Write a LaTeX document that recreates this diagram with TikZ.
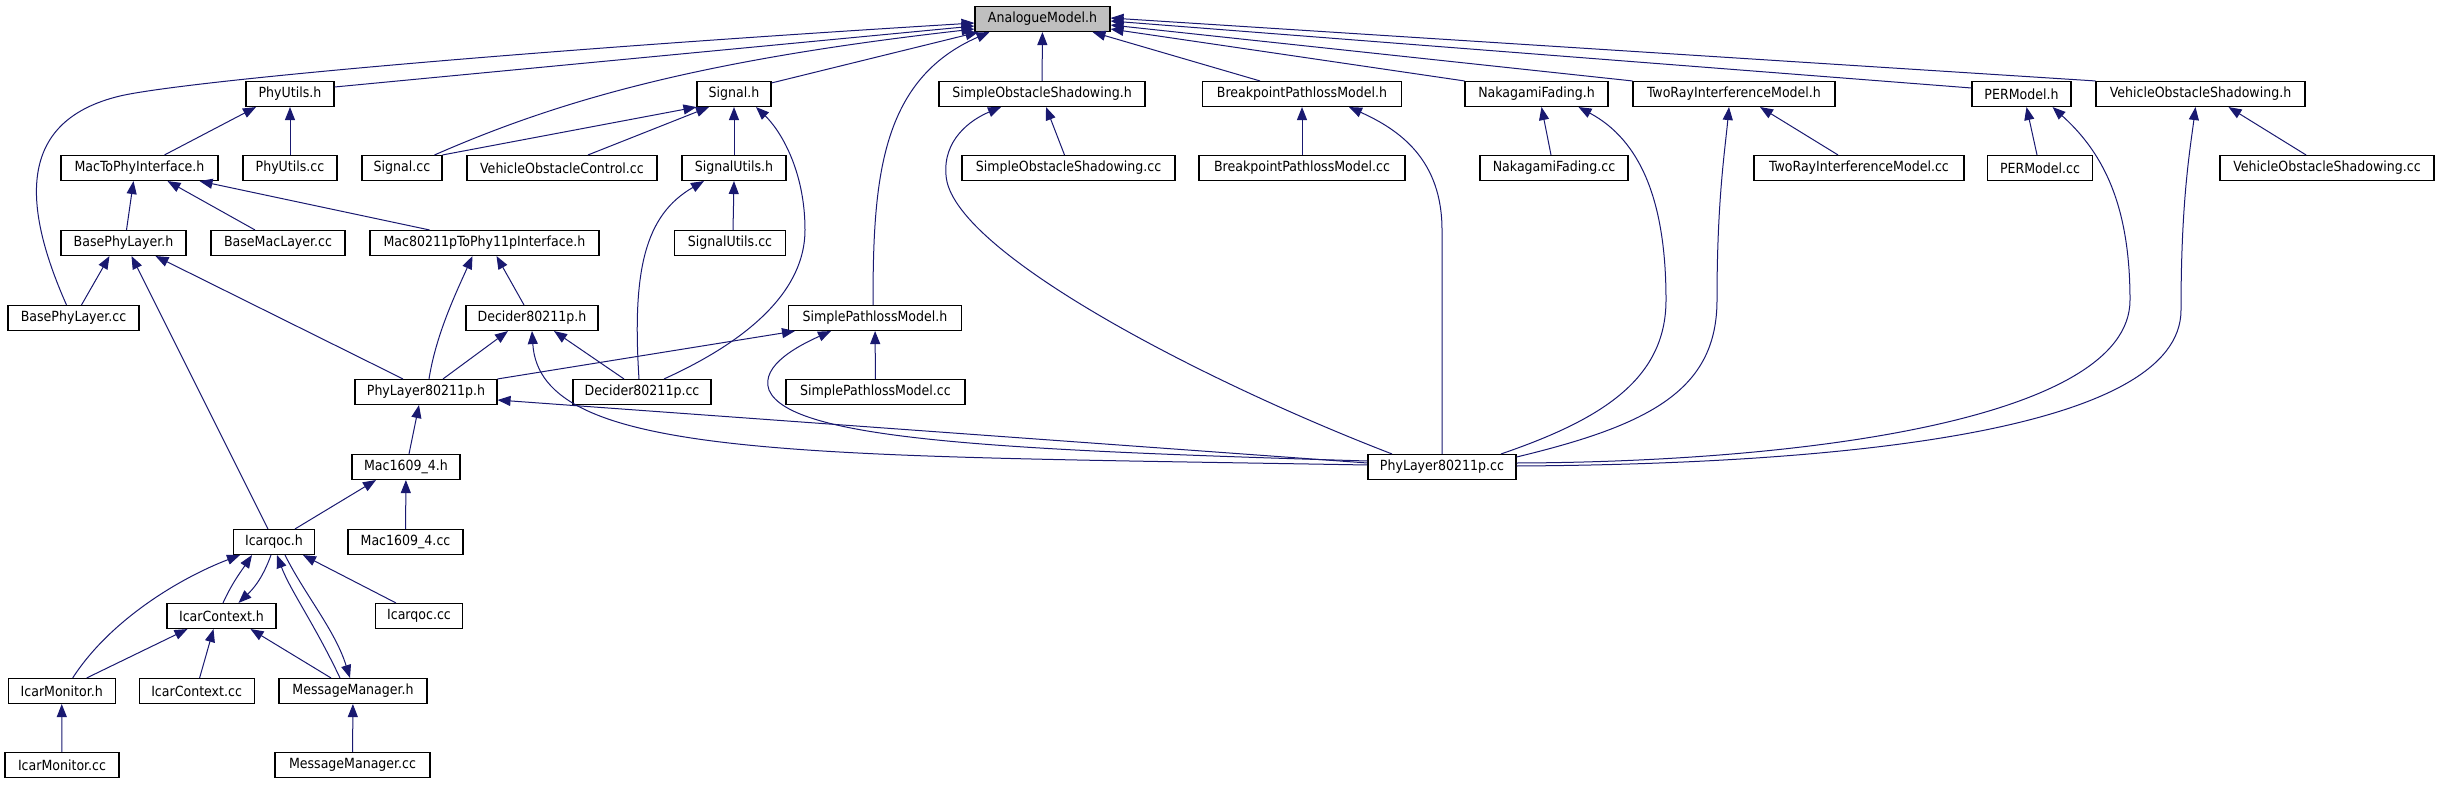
\documentclass[tikz,border=0pt]{standalone}
\usepackage{fontspec}
\setmainfont{DejaVu Sans Condensed}
\usetikzlibrary{arrows.meta}
\definecolor{edgeblue}{RGB}{25,25,112}
\definecolor{mainfill}{RGB}{191,191,191}

\begin{document}
\begin{tikzpicture}[x=1pt, y=-1pt,
    file/.style={rectangle, draw=black, fill=white, line width=1.1pt, minimum height=25pt, inner sep=0pt, font=\fontsize{14}{16}\selectfont},
    dep/.style={-{Triangle[length=13pt, width=10pt]}, color=edgeblue, line width=1pt}]

    \useasboundingbox (0,0) rectangle (2440,784);

    \node[file, fill=mainfill, minimum width=135pt] (am) at (1042.5,19) {AnalogueModel.h};
    % row 1
    \node[file, minimum width=88pt] (phyutilsh) at (290,94) {PhyUtils.h};
    \node[file, minimum width=74pt] (signalh) at (734,94) {Signal.h};
    \node[file, minimum width=206pt] (sosh) at (1042,94) {SimpleObstacleShadowing.h};
    \node[file, minimum width=199pt] (bpmh) at (1302,94) {BreakpointPathlossModel.h};
    \node[file, minimum width=143pt] (nakah) at (1536.5,94) {NakagamiFading.h};
    \node[file, minimum width=202pt] (tworayh) at (1734,94) {TwoRayInterferenceModel.h};
    \node[file, minimum width=99pt] (perh) at (2021.5,94) {PERModel.h};
    \node[file, minimum width=209pt] (vosh) at (2200.5,94) {VehicleObstacleShadowing.h};
    % row 2
    \node[file, minimum width=157pt] (mactophyh) at (139.5,168) {MacToPhyInterface.h};
    \node[file, minimum width=94pt] (phyutilscc) at (290,168) {PhyUtils.cc};
    \node[file, minimum width=80pt] (signalcc) at (402,168) {Signal.cc};
    \node[file, minimum width=190pt] (vocc) at (562,168) {VehicleObstacleControl.cc};
    \node[file, minimum width=104pt] (sigutilsh) at (734,168) {SignalUtils.h};
    \node[file, minimum width=213pt] (soscc) at (1068.5,168) {SimpleObstacleShadowing.cc};
    \node[file, minimum width=206pt] (bpmcc) at (1302,168) {BreakpointPathlossModel.cc};
    \node[file, minimum width=148pt] (nakacc) at (1554,168) {NakagamiFading.cc};
    \node[file, minimum width=210pt] (tworaycc) at (1859,168) {TwoRayInterferenceModel.cc};
    \node[file, minimum width=105pt] (percc) at (2040,168) {PERModel.cc};
    \node[file, minimum width=214pt] (voscc) at (2327,168) {VehicleObstacleShadowing.cc};
    % row 3
    \node[file, minimum width=125pt] (basephyh) at (123.5,243) {BasePhyLayer.h};
    \node[file, minimum width=134pt] (basemaccc) at (278,243) {BaseMacLayer.cc};
    \node[file, minimum width=229pt] (mac11ph) at (484.5,243) {Mac80211pToPhy11pInterface.h};
    \node[file, minimum width=111pt] (sigutilscc) at (730,243) {SignalUtils.cc};
    % row 4
    \node[file, minimum width=131pt] (basephycc) at (73.5,318) {BasePhyLayer.cc};
    \node[file, minimum width=132pt] (deciderh) at (532,318) {Decider80211p.h};
    \node[file, minimum width=173pt] (splh) at (875,318) {SimplePathlossModel.h};
    % row 5
    \node[file, minimum width=142pt] (phylayerh) at (426,392) {PhyLayer80211p.h};
    \node[file, minimum width=138pt] (decidercc) at (642,392) {Decider80211p.cc};
    \node[file, minimum width=179pt] (splcc) at (875.5,392) {SimplePathlossModel.cc};
    % row 6
    \node[file, minimum width=108pt] (mac1609h) at (406,467) {Mac1609\_4.h};
    \node[file, minimum width=148pt] (phylayercc) at (1442,467) {PhyLayer80211p.cc};
    % row 7
    \node[file, minimum width=81pt] (icarqoch) at (274,542) {Icarqoc.h};
    \node[file, minimum width=115pt] (mac1609cc) at (405.5,542) {Mac1609\_4.cc};
    % row 8
    \node[file, minimum width=109pt] (icarctxh) at (221.5,616) {IcarContext.h};
    \node[file, minimum width=87pt] (icarqoccc) at (419,616) {Icarqoc.cc};
    % row 9
    \node[file, minimum width=107pt] (icarmonh) at (61.7,691) {IcarMonitor.h};
    \node[file, minimum width=115pt] (icarctxcc) at (196.6,691) {IcarContext.cc};
    \node[file, minimum width=148pt] (msgmgrh) at (353,691) {MessageManager.h};
    % row 10
    \node[file, minimum width=114pt] (icarmoncc) at (62,765) {IcarMonitor.cc};
    \node[file, minimum width=155pt] (msgmgrcc) at (352.5,765) {MessageManager.cc};

    % includes of AnalogueModel.h
    \draw[dep] ([xshift=-7pt]basephycc.north) .. controls (20,200) and (20,120) .. (120,96) .. controls (180,82) and (500,52) .. ([yshift=-4pt]am.west);
    \draw[dep] ([yshift=7pt]phyutilsh.east) -- ([yshift=-7pt]am.west);
    \draw[dep] ([xshift=-8pt]signalcc.north east) .. controls (560,100) and (700,60) .. ([yshift=-10pt]am.west);
    \draw[dep] ([yshift=-2pt]signalh.north east) -- ([xshift=4pt]am.south west);
    \draw[dep] ([xshift=-2pt]splh.north) .. controls (873,180) and (880,80) .. ([xshift=15pt]am.south west);
    \draw[dep] (sosh) -- (am);
    \draw[dep] ([xshift=-42pt]bpmh.north) -- ([xshift=50pt]am.south);
    \draw[dep] (nakah.north west) -- ([yshift=-10pt]am.east);
    \draw[dep] (tworayh.north west) -- ([yshift=-6pt]am.east);
    \draw[dep] ([yshift=6pt]perh.west) -- ([yshift=-2pt]am.east);
    \draw[dep] (vosh.north west) -- ([yshift=1pt]am.east);

    % second row headers
    \draw[dep] ([xshift=25pt]mactophyh.north) -- ([xshift=-34pt]phyutilsh.south);
    \draw[dep] (phyutilscc) -- (phyutilsh);
    \draw[dep] (signalcc.north east) -- (signalh.south west);
    \draw[dep] ([xshift=26pt]vocc.north) -- ([xshift=-25pt]signalh.south);
    \draw[dep] (sigutilsh) -- (signalh);
    \draw[dep] ([xshift=22pt]decidercc.north) .. controls (750,340) and (805,290) .. (805,230) .. controls (805,170) and (780,130) .. ([xshift=22pt]signalh.south);
    \draw[dep] ([xshift=3pt]sigutilscc.north) -- (sigutilsh.south);
    \draw[dep] ([xshift=-3pt]decidercc.north) .. controls (632,270) and (645,215) .. ([xshift=-30pt]sigutilsh.south);
    \draw[dep] ([xshift=-4pt]soscc.north) -- ([xshift=4pt]sosh.south);
    \draw[dep] (bpmcc) -- (bpmh);
    \draw[dep] ([xshift=-3pt]nakacc.north) -- ([xshift=5pt]nakah.south);
    \draw[dep] ([xshift=-21pt]tworaycc.north) -- ([xshift=26pt]tworayh.south);
    \draw[dep] ([xshift=-3pt]percc.north) -- ([xshift=5pt]perh.south);
    \draw[dep] ([xshift=-21pt]voscc.north) -- ([xshift=28pt]vosh.south);

    % phy layer
    \draw[dep] ([xshift=3pt]basephyh.north) -- ([xshift=-6pt]mactophyh.south);
    \draw[dep] ([xshift=-23pt]basemaccc.north) -- ([xshift=28pt]mactophyh.south);
    \draw[dep] ([xshift=-55pt]mac11ph.north) -- ([xshift=60pt]mactophyh.south);
    \draw[dep] ([xshift=8pt]basephycc.north) -- ([xshift=-14pt]basephyh.south);
    \draw[dep] ([xshift=-6pt]icarqoch.north) -- ([xshift=8pt]basephyh.south);
    \draw[dep] ([xshift=-23pt]phylayerh.north) -- ([xshift=32pt]basephyh.south);
    \draw[dep] ([xshift=3pt]phylayerh.north) .. controls (436,335) and (455,295) .. ([xshift=-12pt]mac11ph.south);
    \draw[dep] ([xshift=-8pt]deciderh.north) -- ([xshift=12pt]mac11ph.south);
    \draw[dep] ([xshift=17pt]phylayerh.north) -- ([xshift=-24pt]deciderh.south);
    \draw[dep] ([xshift=-18pt]decidercc.north) -- ([xshift=22pt]deciderh.south);
    \draw[dep] (phylayerh.north east) -- ([xshift=-80pt]splh.south);
    \draw[dep] (splcc) -- (splh);
    \draw[dep] ([xshift=3pt]mac1609h.north) -- ([xshift=-7pt]phylayerh.south);

    % PhyLayer80211p.cc
    \draw[dep] ([yshift=2pt]phylayercc.west) .. controls (800,455) and (540,460) .. (deciderh.south);
    \draw[dep] ([yshift=6pt]phylayercc.west) .. controls (1000,450) and (790,440) .. (769,390) .. controls (760,365) and (800,345) .. ([xshift=-44pt]splh.south);
    \draw[dep] ([yshift=4pt]phylayercc.west) -- ([yshift=-8pt]phylayerh.east);
    \draw[dep] ([xshift=-50pt]phylayercc.north) .. controls (1200,380) and (950,250) .. (946,175) .. controls (943,140) and (970,120) .. ([xshift=-41pt]sosh.south);
    \draw[dep] (phylayercc.north) -- (1442,230) .. controls (1442,160) and (1400,130) .. ([xshift=47pt]bpmh.south);
    \draw[dep] ([xshift=59pt]phylayercc.north) .. controls (1600,420) and (1666,380) .. (1666,300) .. controls (1666,200) and (1640,140) .. ([xshift=42pt]nakah.south);
    \draw[dep] ([yshift=10pt]phylayercc.east) .. controls (1650,425) and (1717,390) .. (1717,300) .. controls (1717,200) and (1725,150) .. ([xshift=-5pt]tworayh.south);
    \draw[dep] ([yshift=4pt]phylayercc.east) .. controls (1800,462) and (2130,420) .. (2130,300) .. controls (2130,200) and (2100,150) .. ([xshift=31pt]perh.south);
    \draw[dep] ([yshift=1pt]phylayercc.east) .. controls (1850,464) and (2181,430) .. (2181,310) .. controls (2181,200) and (2190,150) .. ([xshift=-5pt]vosh.south);

    % icar
    \draw[dep] ([xshift=21pt]icarqoch.north) -- ([xshift=-30pt]mac1609h.south);
    \draw[dep] (mac1609cc) -- (mac1609h);
    \draw[dep] ([xshift=1.5pt]icarctxh.north) .. controls (232,583) and (242,570) .. ([xshift=-22pt]icarqoch.south);
    \draw[dep] ([xshift=-3pt]icarqoch.south) .. controls (262,580) and (252,590) .. ([xshift=17pt]icarctxh.north);
    \draw[dep] ([xshift=11pt]icarmonh.north) .. controls (110,620) and (180,578) .. ([xshift=-34pt]icarqoch.south);
    \draw[dep] ([xshift=-13pt]msgmgrh.north) .. controls (315,625) and (290,590) .. ([xshift=3pt]icarqoch.south);
    \draw[dep] ([xshift=11pt]icarqoch.south) .. controls (305,595) and (335,630) .. ([xshift=-3pt]msgmgrh.north);
    \draw[dep] ([xshift=-23pt]icarqoccc.north) -- ([xshift=29pt]icarqoch.south);
    \draw[dep] ([xshift=25pt]icarmonh.north) -- ([xshift=-34pt]icarctxh.south);
    \draw[dep] ([xshift=3pt]icarctxcc.north) -- ([xshift=-8pt]icarctxh.south);
    \draw[dep] ([xshift=-22pt]msgmgrh.north) -- ([xshift=29pt]icarctxh.south);
    \draw[dep] (icarmoncc) -- (icarmonh);
    \draw[dep] (msgmgrcc) -- (msgmgrh);
\end{tikzpicture}
\end{document}
